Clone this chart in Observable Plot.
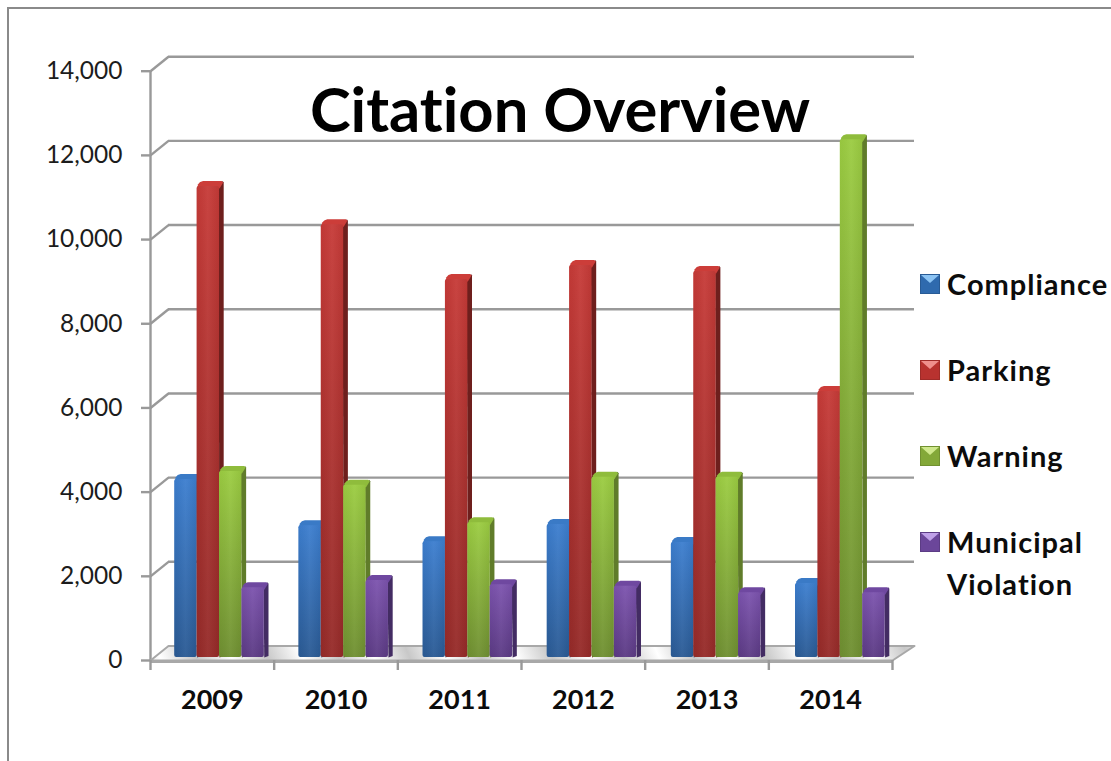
<!DOCTYPE html>
<html>
<head>
<meta charset="utf-8">
<script src="https://cdn.jsdelivr.net/npm/d3@7"></script>
<script src="https://cdn.jsdelivr.net/npm/@observablehq/plot@0.6"></script>
<style>
html,body{margin:0;padding:0;background:#fff;overflow:hidden}
#page{position:relative;width:1111px;height:761px;overflow:hidden;font-family:Lato,sans-serif;font-variant-ligatures:none}
#border{position:absolute;left:7px;top:7px;width:1200px;height:900px;border:2px solid #8a8a8a}
#chart{position:absolute;left:0;top:0}
#chart text{font-variant-ligatures:none}
#title{position:absolute;left:260px;width:600px;top:70px;text-align:center;font-size:61.5px;line-height:76px;font-weight:700;color:#000}
.lg{position:absolute;left:920px;font-size:29px;letter-spacing:1px;line-height:42px;font-weight:700;color:#0c0c0c;display:flex}
.lg svg{flex:none;margin:11px 7px 0 0}
</style>
</head>
<body>
<div id="page">
  <div id="border"></div>
  <div id="chart"></div>
  <div id="title">Citation Overview</div>
  <div id="legend"></div>
</div>
<script>
const years = [2009, 2010, 2011, 2012, 2013, 2014];
const seriesNames = ["Compliance", "Parking", "Warning", "Municipal Violation"];
const compliance = [4230, 3130, 2750, 3160, 2730, 1760];
const parking = [11190, 10280, 8980, 9310, 9170, 6320];
const warning = [4420, 4090, 3200, 4280, 4280, 12300];
const municipal = [1660, 1830, 1730, 1690, 1540, 1540];
const yTicks = [0, 2000, 4000, 6000, 8000, 10000, 12000, 14000];

const seriesValues = [compliance, parking, warning, municipal];
const shades = [
  {id: "b", top: "#3c7ecf", bottom: "#2a5a94", cap: "#3a7ac6", side: "#27507f"},
  {id: "r", top: "#c63a37", bottom: "#952a28", cap: "#cc3d39", side: "#6e1f1d"},
  {id: "g", top: "#9bcc41", bottom: "#6f8f31", cap: "#8fbc3c", side: "#607c2a"},
  {id: "p", top: "#7c53ae", bottom: "#5b3a84", cap: "#6f48a0", side: "#432c63"}
];

// pixel-size helpers, expressed in scale units
const W = 1111, H = 761, mL = 150, mR = 219, mT = 70.7, mB = 101;
const ux = 6 / (W - mL - mR), uy = 14000 / (H - mT - mB);
const depthX = 18 * ux, depthY = 14.5 * uy, depthXR = 22 * ux;
const barW = 22.4 * ux, barStart = 24.2 * ux, barStep = 1.004, sideX = 4.2 * ux, sideY = 5.5 * uy;

const defs = () => {
  const d = d3.create("svg:defs");
  let h = "";
  for (const s of shades) {
    h += `<linearGradient id="${s.id}" x1="0" y1="0" x2="0" y2="1"><stop offset="0" stop-color="${s.top}"/><stop offset="1" stop-color="${s.bottom}"/></linearGradient>`;
  }
  h += `<linearGradient id="sheen" x1="0" y1="0" x2="1" y2="0"><stop offset="0" stop-color="#000" stop-opacity=".03"/><stop offset=".5" stop-color="#fff" stop-opacity=".05"/><stop offset="1" stop-color="#000" stop-opacity=".05"/></linearGradient>`;
  h += `<linearGradient id="floor" gradientUnits="userSpaceOnUse" x1="268" y1="660" x2="298" y2="647" spreadMethod="reflect"><stop offset="0" stop-color="#c8c8c8"/><stop offset="1" stop-color="#ffffff"/></linearGradient>`;
  d.html(h);
  return d.node();
};

const grey = "#999999";
const floorPoly = [[0, 0], [depthX, depthY], [6 + depthXR, depthY], [6, 0], [0, 0]].map(([x, y]) => ({x, y}));

const barMarks = [];
seriesValues.forEach((vals, si) => {
  const s = shades[si];
  const rows = vals.map((v, i) => {
    const x1 = i * barStep + barStart + si * barW;
    return {x1, x2: x1 + barW, v};
  });
  const side = rows.flatMap((r, k) => [
    [r.x2, 0], [r.x2 + sideX, 1.5 * uy], [r.x2 + sideX, r.v + sideY - 1.5 * uy], [r.x2 + sideX - 1 * ux, r.v + sideY],
    [r.x2 - 1 * ux, r.v]
  ].map(([x, y]) => ({x, y, k})));
  const cap = rows.flatMap((r, k) => [
    [r.x1, r.v - 2 * uy], [r.x1 + 1 * ux, r.v + 2.2 * uy], [r.x1 + 3 * ux, r.v + 4.4 * uy], [r.x1 + 6 * ux, r.v + sideY],
    [r.x2 + sideX - 2 * ux, r.v + sideY], [r.x2 + sideX - 0.5 * ux, r.v + 4 * uy], [r.x2, r.v - 2 * uy]
  ].map(([x, y]) => ({x, y, k})));
  const common = {dy: -3};
  barMarks.push(
    Plot.line(side, {x: "x", y: "y", z: "k", fill: s.side, stroke: "none", ...common}),
    Plot.line(cap, {x: "x", y: "y", z: "k", fill: s.cap, stroke: "none", ...common}),
    Plot.rect(rows, {x1: "x1", x2: "x2", y1: 0, y2: "v", fill: `url(#${s.id})`, rx: 2, ...common}),
    Plot.rect(rows, {x1: "x1", x2: "x2", y1: 0, y2: "v", fill: "url(#sheen)", rx: 2, ...common})
  );
});

const plot = Plot.plot({
  width: W, height: H,
  marginLeft: mL, marginRight: mR, marginTop: mT, marginBottom: mB,
  style: {background: "transparent", fontFamily: "Lato, sans-serif"},
  x: {type: "linear", domain: [0, 6]},
  y: {domain: [0, 14000]},
  marks: [
    defs,
    Plot.ruleY(yTicks.slice(1), {x1: depthX, x2: 6 + depthXR, y: d => d + depthY, stroke: grey, strokeWidth: 2.4}),
    Plot.link(yTicks.slice(1), {x1: 0, y1: d => d, x2: depthX, y2: d => d + depthY, stroke: grey, strokeWidth: 2.4}),
    Plot.ruleX([0], {y1: 0, y2: 14000, stroke: grey, strokeWidth: 2.4}),
    Plot.line(floorPoly, {x: "x", y: "y", fill: "url(#floor)", stroke: "#a8a8a8", strokeWidth: 2}),
    Plot.ruleY([0], {x1: 0, x2: 6, stroke: "#a8a8a8", strokeWidth: 3.2, dy: 1}),
    Plot.axisY({ticks: yTicks, tickFormat: d3.format(","), tickSize: 9, tickPadding: 19, stroke: grey, strokeWidth: 2.4, fill: "#1c1c1c", fontSize: 24.5, label: null}),
    Plot.axisX({ticks: d3.range(7), tickFormat: () => "", tickSize: 10, stroke: grey, strokeWidth: 2.4, label: null}),
    Plot.axisX({ticks: years.map((y, i) => i + 0.5), tickFormat: (d) => String(years[d - 0.5]), tickSize: 0, tickPadding: 29, fontSize: 27, fontWeight: 700, fill: "#0c0c0c", label: null}),
    ...barMarks
  ]
});
document.getElementById("chart").appendChild(plot);

// legend, placed beside the plot
const swatchLight = ["#8cc4f4", "#ef8f8c", "#cfe88c", "#bfa0e8"];
const swatchMid = ["#2f6aae", "#b8322f", "#83a838", "#6b469a"];
const legendTops = [263, 349, 435, 521];
const legend = d3.select("#legend");
seriesNames.forEach((name, i) => {
  const row = legend.append("div").attr("class", "lg").style("top", legendTops[i] + "px");
  const sv = row.append("svg").attr("width", 20).attr("height", 20);
  sv.append("rect").attr("width", 20).attr("height", 20).attr("fill", swatchMid[i]);
  sv.append("path").attr("d", "M1 1H19L10 9Z").attr("fill", swatchLight[i]);
  sv.append("rect").attr("x", .5).attr("y", .5).attr("width", 19).attr("height", 19).attr("fill", "none").attr("stroke", "#0002");
  const parts = name.split(" ");
  row.append("div").html(parts.join("<br>"));
});
</script>
</body>
</html>
